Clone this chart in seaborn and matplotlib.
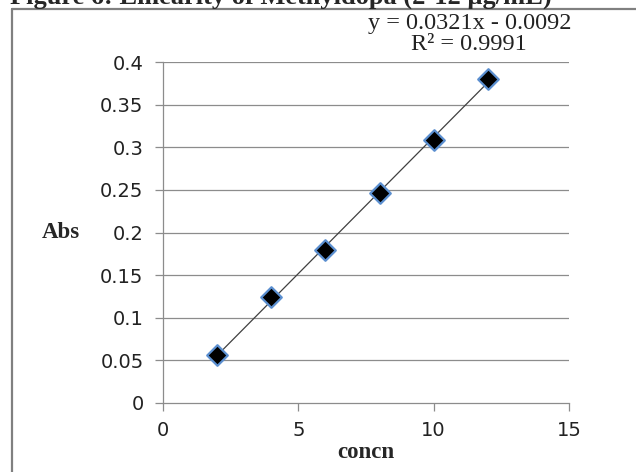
import matplotlib
matplotlib.use("Agg")
import matplotlib.pyplot as plt
from matplotlib.lines import Line2D
import seaborn as sns
import pandas as pd

# Data
concn = [2, 4, 6, 8, 10, 12]
absorbance = [0.056, 0.124, 0.180, 0.246, 0.309, 0.380]
x_ticks = [0, 5, 10, 15]
y_ticks = [0, 0.05, 0.1, 0.15, 0.2, 0.25, 0.3, 0.35, 0.4]
y_ticklabels = ["0", "0.05", "0.1", "0.15", "0.2", "0.25", "0.3", "0.35", "0.4"]
equation_text = "y = 0.0321x - 0.0092"
r2_text = "R² = 0.9991"
title_text = "Figure 6: Linearity of Methyldopa (2-12 µg/mL)"

df = pd.DataFrame({"concn": concn, "Abs": absorbance})

sns.set_theme(style="white")
plt.rcParams["font.family"] = ["DejaVu Sans"]

W, H = 636, 472
fig = plt.figure(figsize=(W / 100, H / 100), dpi=100)
ax = fig.add_axes([163 / W, 1 - 403 / H, (569 - 163) / W, (403 - 62) / H])

grid_col = "#8c8c8c"
for yv in y_ticks[1:]:
    ax.axhline(yv, color=grid_col, lw=0.9, zorder=0)

sns.regplot(data=df, x="concn", y="Abs", ax=ax, ci=None, scatter=False,
            truncate=True, line_kws=dict(color="#404040", lw=0.9, zorder=2))
sns.scatterplot(data=df, x="concn", y="Abs", ax=ax, marker="D", s=110,
                color="black", edgecolor="#5b8fd0", linewidth=1.6, zorder=3)

ax.set_xlim(0, 15)
ax.set_ylim(0, 0.4)
ax.set_xticks(x_ticks)
ax.set_yticks(y_ticks)
ax.set_yticklabels(y_ticklabels)
ax.tick_params(axis="both", which="both", direction="out", length=6,
               width=0.9, color=grid_col, labelsize=14, labelcolor="#222222")
ax.tick_params(axis="x", pad=7)
ax.tick_params(axis="y", pad=8)
ax.tick_params(left=True, bottom=True)
for s in ["top", "right"]:
    ax.spines[s].set_visible(False)
for s in ["left", "bottom"]:
    ax.spines[s].set_color(grid_col)
    ax.spines[s].set_linewidth(0.9)

ax.set_xlabel("")
ax.set_ylabel("")
fig.text(366 / W, 1 - 453 / H, "concn", ha="center", va="center",
         family="Liberation Serif", weight="bold", fontsize=16.5)
fig.text(61 / W, 1 - 232 / H, "Abs", ha="center", va="center",
         family="Liberation Serif", weight="bold", fontsize=16.5)

fig.text(470 / W, 1 - 23 / H, equation_text, ha="center", va="center",
         family="Liberation Serif", fontsize=17.5, color="#222222")
fig.text(469 / W, 1 - 45 / H, r2_text, ha="center", va="center",
         family="Liberation Serif", fontsize=17.5, color="#222222")

fig.text(10 / W, 1 - 3.5 / H, title_text, ha="left", va="baseline",
         family="Liberation Serif", weight="bold", fontsize=19)

frame_col = "#808080"
fig.add_artist(Line2D([12 / W, 1], [1 - 9 / H, 1 - 9 / H], transform=fig.transFigure,
                      color=frame_col, lw=1.6))
fig.add_artist(Line2D([12 / W, 12 / W], [1 - 9 / H, 0], transform=fig.transFigure,
                      color=frame_col, lw=1.6))

fig.savefig("out.png", dpi=100)
